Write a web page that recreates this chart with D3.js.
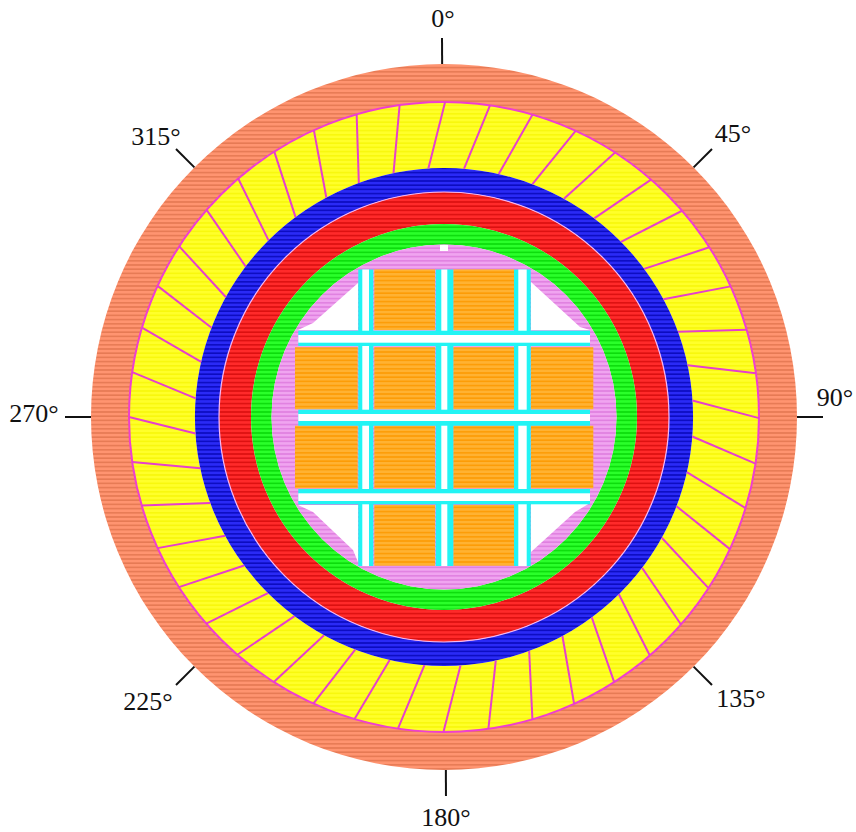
<!DOCTYPE html>
<html>
<head>
<meta charset="utf-8">
<script src="https://cdn.jsdelivr.net/npm/d3@7"></script>
<style>
    html, body { margin: 0; padding: 0; background: #fff; }
    svg { display: block; }
    text { font-family: "Liberation Serif", serif; font-size: 26px; fill: #111; }
</style>
</head>
<body>
<div id="chart"></div>
<script>
// Ring edges, distance from the centre
const ringNames = ["shell", "coils", "blue", "red", "green", "core"];
const ringOuter = [353, 315, 249, 225, 193, 172.5];
const ringInner = [315, 249, 225, 193, 172.5, 0];

// Coil separators: angle at the outer edge and at the inner edge (degrees, clockwise from top)
const spokeOuter = [0.2, 8.4, 16.3, 24.7, 32.9, 41.1, 49.1, 57.4, 65.5, 73.9, 82, 90.2,
    98.5, 106.8, 114.8, 122.9, 131.2, 139.2, 147.3, 155.6, 163.7, 171.9, 180.1,
    188.4, 196.5, 204.5, 212.7, 221, 229, 237.3, 245.4, 253.7, 261.8, 270,
    278.2, 286.5, 294.6, 302.8, 311.1, 319.2, 327.4, 335.6, 343.9, 351.9];
const spokeInner = [356.4, 4.6, 12.7, 20.8, 28.8, 37.1, 45.3, 53.5, 61.8, 70, 78, 86.2,
    94.5, 102.8, 111, 119, 127.3, 135.4, 143.6, 151.6, 160, 168, 176.2,
    184.5, 192.6, 200.9, 208.8, 216.9, 225, 233.4, 241.5, 249.8, 258.1, 266.2,
    274.3, 282.8, 291, 298.8, 307.2, 315.2, 323.4, 331.8, 340, 348.3];

// Orange blocks: column and row edges, and which cells exist
const colEdges = [[-149, -86.3], [-69.7, -9], [9.3, 70], [87, 149.3]];
const rowEdges = [[-147.7, -87], [-69.7, -7.7], [8.7, 71.3], [88, 148.7]];
const cellCols = [1, 2, 0, 1, 2, 3, 0, 1, 2, 3, 1, 2];
const cellRows = [0, 0, 1, 1, 1, 1, 2, 2, 2, 2, 3, 3];

// Channels between the blocks
const vBarOuter = [[-85.7, -70.7], [-8.3, 9.3], [70, 86.7]];
const vBarInner = [[-81.7, -75], [-2.7, 3.3], [74.3, 82.7]];
const vBarSpan = [-147.5, 149];
const hBarOuter = [[-86.3, -71], [-7.3, 8.7], [72, 87.3]];
const hBarInner = [[-82, -74.3], [-3, 4], [76.3, 84]];
const hBarSpan = [-145.7, 146];

// White corner gaps
const cornerGaps = [
    [[-86, -134], [-131, -94], [-146, -87], [-86, -87]],
    [[87, -135], [136, -90], [146, -87], [87, -87]],
    [[-146, 88], [-131, 95], [-91, 133], [-86, 145], [-86, 88]],
    [[87, 135], [131, 95], [146, 86], [87, 86]]
];
const notch = [[-4, -172], [4, -172], [4, -166], [-4, -166]];

// Direction labels
const tickAngles = [-0.3, 45, 90, 135, 179.7, 225, 270, 315];
const tickLabels = ["0°", "45°", "90°", "135°", "180°", "225°", "270°", "315°"];
const labelX = [-1, 289, 391, 297, 2, -296, -410, -288];
const labelY = [-399, -284, -20, 281, 400, 284, -4, -281];

const width = 856;
const height = 832;
const cx = 444;
const cy = 417;
const tickIn = 353;
const tickOut = 379;

const x = d3.scaleLinear().domain([-353, 353]).range([cx - 353, cx + 353]);
const y = d3.scaleLinear().domain([-353, 353]).range([cy - 353, cy + 353]);
const r = d3.scaleLinear().domain([0, 353]).range([0, 353]);
const rad = d3.scaleLinear().domain([0, 360]).range([0, 2 * Math.PI]);

const svg = d3.select("#chart")
    .append("svg")
    .attr("width", width)
    .attr("height", height);

// Scan line stripes for each fill
const fills = {
    shell: ["#ff9470", "#e67a54"],
    coils: ["#ffff2a", "#f8f80c"],
    blue: ["#2a2af6", "#0c0cc0"],
    red: ["#ff2a2a", "#dc1010"],
    green: ["#2aff2a", "#0cdc0c"],
    core: ["#f0a4f0", "#e080e0"],
    block: ["#ffb232", "#fd9c06"]
};
const defs = svg.append("defs");
Object.keys(fills).forEach(name => {
    const p = defs.append("pattern")
        .attr("id", "fill-" + name)
        .attr("patternUnits", "userSpaceOnUse")
        .attr("width", 8)
        .attr("height", 4.2);
    p.append("rect").attr("width", 8).attr("height", 4.2).attr("fill", fills[name][0]);
    p.append("rect").attr("y", 2.6).attr("width", 8).attr("height", 1.6).attr("fill", fills[name][1]);
});

const arc = d3.arc().startAngle(0).endAngle(2 * Math.PI);
const plot = svg.append("g");

// Rings
plot.selectAll(".ring")
    .data(ringNames)
    .enter()
    .append("path")
    .attr("class", "ring")
    .attr("transform", `translate(${cx},${cy})`)
    .attr("d", (d, i) => arc({ innerRadius: r(ringInner[i]), outerRadius: r(ringOuter[i]) }))
    .attr("fill", d => `url(#fill-${d})`);

// Edge lines on the coil ring and between blue and red
plot.append("circle")
    .attr("cx", cx).attr("cy", cy).attr("r", r(ringOuter[1]))
    .attr("fill", "none").attr("stroke", "#ee3fd0").attr("stroke-width", 2);
plot.append("circle")
    .attr("cx", cx).attr("cy", cy).attr("r", r(ringOuter[3]))
    .attr("fill", "none").attr("stroke", "#f3b6f3").attr("stroke-width", 1.2);

// Coil separators
const polar = (deg, radius) => [
    x(radius * Math.sin(rad(deg))),
    y(-radius * Math.cos(rad(deg)))
];
plot.selectAll(".spoke")
    .data(spokeOuter)
    .enter()
    .append("line")
    .attr("class", "spoke")
    .attr("x1", d => polar(d, ringOuter[1])[0])
    .attr("y1", d => polar(d, ringOuter[1])[1])
    .attr("x2", (d, i) => polar(spokeInner[i], ringInner[1])[0])
    .attr("y2", (d, i) => polar(spokeInner[i], ringInner[1])[1])
    .attr("stroke", "#e640cc")
    .attr("stroke-width", 2);

// White gaps in the core
const outline = d3.line().x(d => x(d[0])).y(d => y(d[1]));
plot.selectAll(".gap")
    .data(cornerGaps.concat([notch]))
    .enter()
    .append("path")
    .attr("class", "gap")
    .attr("d", d => outline(d) + "Z")
    .attr("fill", "#fff");

// Orange blocks
plot.selectAll(".block")
    .data(cellCols)
    .enter()
    .append("rect")
    .attr("class", "block")
    .attr("x", d => x(colEdges[d][0]))
    .attr("width", d => x(colEdges[d][1]) - x(colEdges[d][0]))
    .attr("y", (d, i) => y(rowEdges[cellRows[i]][0]))
    .attr("height", (d, i) => y(rowEdges[cellRows[i]][1]) - y(rowEdges[cellRows[i]][0]))
    .attr("fill", "url(#fill-block)");

// Channels, vertical first so the horizontal ones run over them
function drawVBars(edges, color) {
    plot.selectAll(null)
        .data(edges)
        .enter()
        .append("rect")
        .attr("x", d => x(d[0]))
        .attr("width", d => x(d[1]) - x(d[0]))
        .attr("y", y(vBarSpan[0]))
        .attr("height", y(vBarSpan[1]) - y(vBarSpan[0]))
        .attr("fill", color);
}
function drawHBars(edges, color) {
    plot.selectAll(null)
        .data(edges)
        .enter()
        .append("rect")
        .attr("x", x(hBarSpan[0]))
        .attr("width", x(hBarSpan[1]) - x(hBarSpan[0]))
        .attr("y", d => y(d[0]))
        .attr("height", d => y(d[1]) - y(d[0]))
        .attr("fill", color);
}
drawVBars(vBarOuter, "#22f4f4");
drawVBars(vBarInner, "#fff");
drawHBars(hBarOuter, "#22f4f4");
drawHBars(hBarInner, "#fff");

// Direction ticks and labels
svg.selectAll(".tick")
    .data(tickAngles)
    .enter()
    .append("line")
    .attr("class", "tick")
    .attr("x1", d => polar(d, tickIn)[0])
    .attr("y1", d => polar(d, tickIn)[1])
    .attr("x2", d => polar(d, tickOut)[0])
    .attr("y2", d => polar(d, tickOut)[1])
    .attr("stroke", "#111")
    .attr("stroke-width", 2);

svg.selectAll(".label")
    .data(tickLabels)
    .enter()
    .append("text")
    .attr("class", "label")
    .attr("x", (d, i) => x(labelX[i]))
    .attr("y", (d, i) => y(labelY[i]))
    .attr("text-anchor", "middle")
    .attr("dy", "0.36em")
    .text(d => d);
</script>
</body>
</html>
